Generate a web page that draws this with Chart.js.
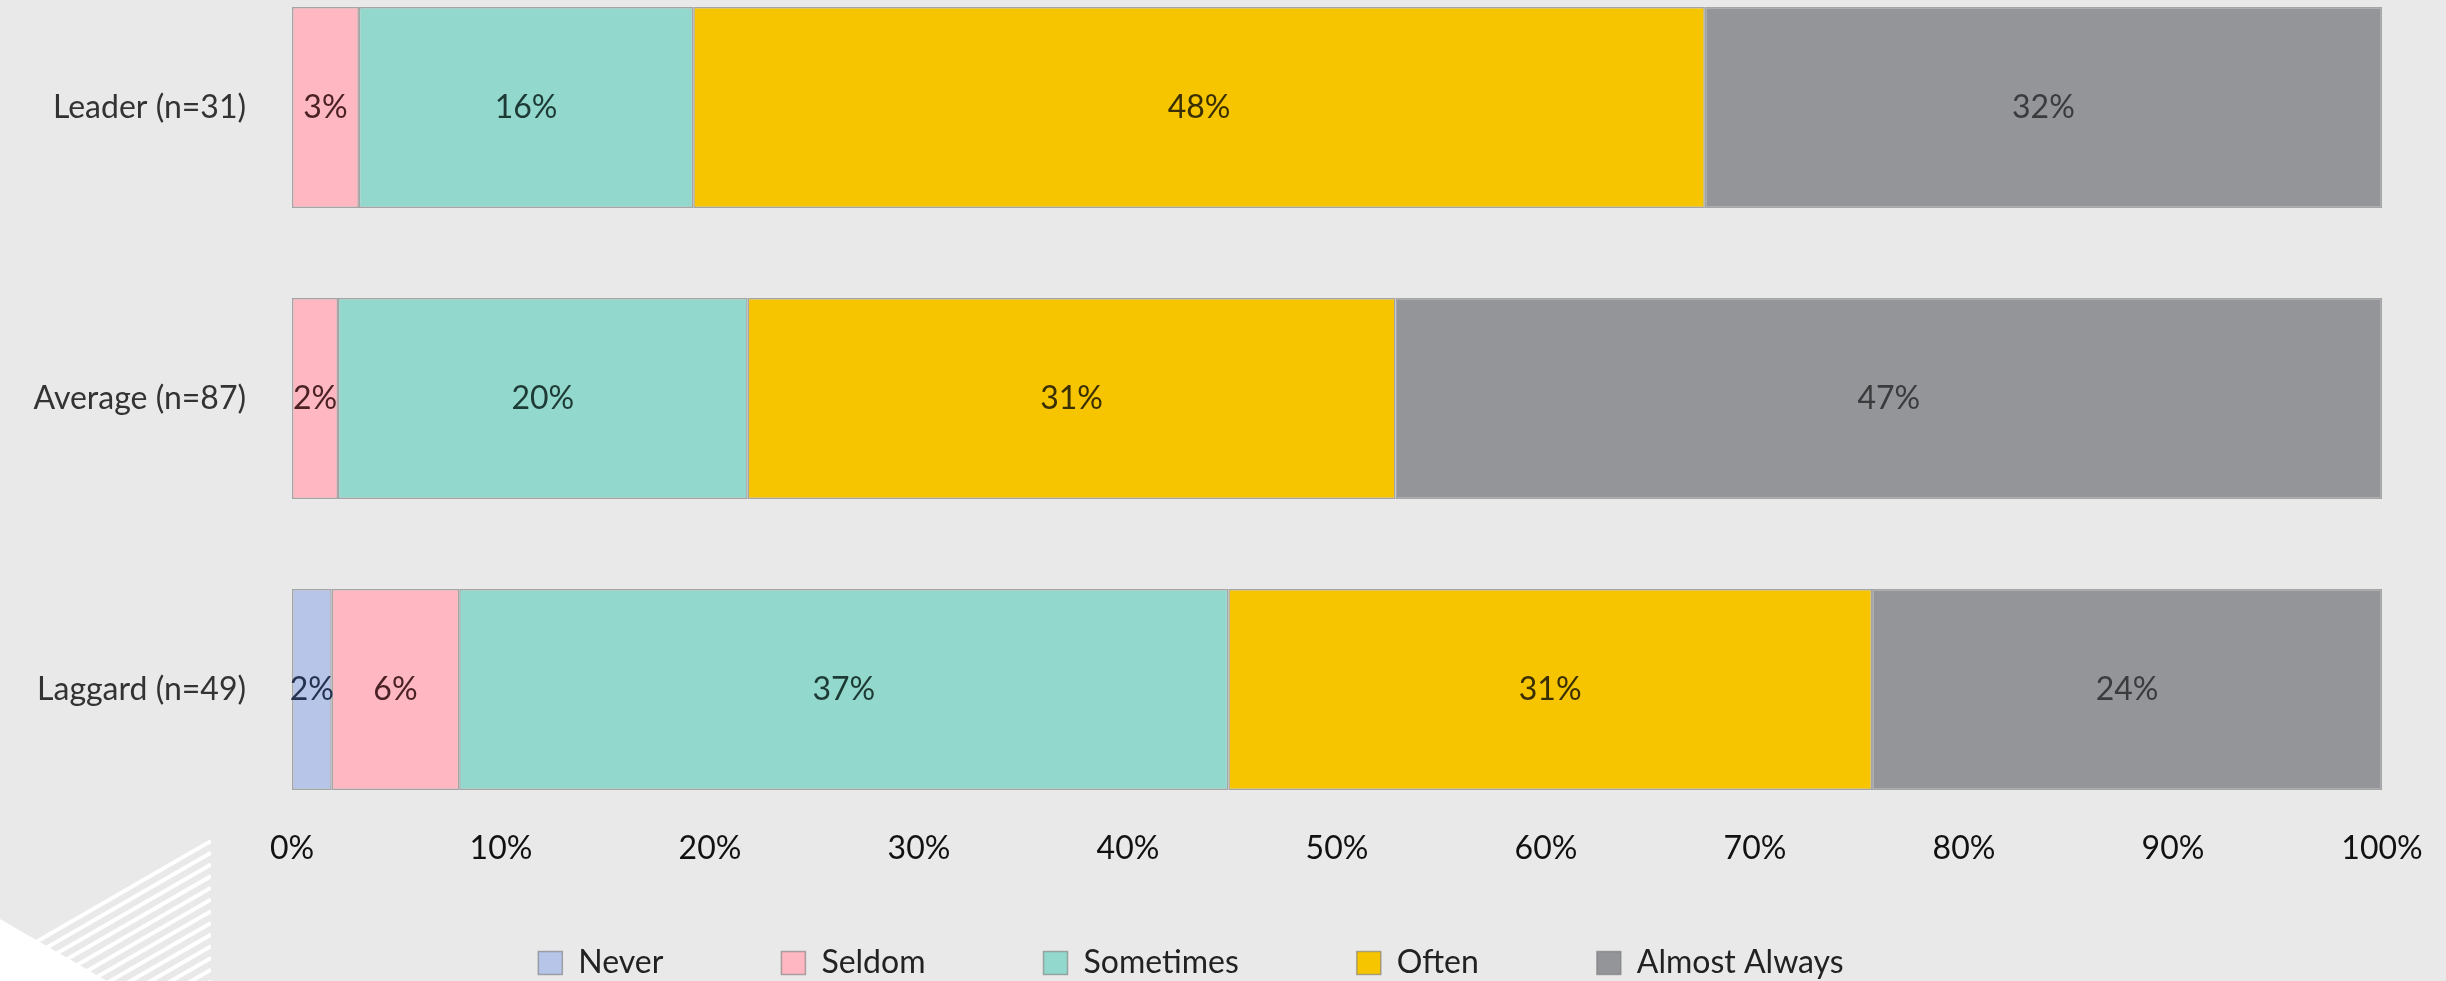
<!DOCTYPE html>
<html>
<head>
<meta charset="utf-8">
<script src="https://cdn.jsdelivr.net/npm/chart.js@4/dist/chart.umd.min.js"></script>
<style>
    html, body {
        margin: 0;
        padding: 0;
        width: 2446px;
        height: 981px;
        overflow: hidden;
        background: #e9e9e9;
        font-family: Lato, sans-serif;
    }
    #deco {
        position: absolute;
        left: 0;
        top: 0;
    }
    #chartBox {
        position: absolute;
        left: 0;
        top: -38px;
        width: 2446px;
        height: 1078px;
    }
</style>
</head>
<body>
<svg id="deco" width="260" height="981"></svg>
<div id="chartBox"><canvas id="barChart"></canvas></div>
<script>
// chart values (percent of respondents)
const categories = ['Leader (n=31)', 'Average (n=87)', 'Laggard (n=49)'];
const seriesNames = ['Never', 'Seldom', 'Sometimes', 'Often', 'Almost Always'];
const never = [0, 0, 1.9];
const seldom = [3.2, 2.2, 6.1];
const sometimes = [16.0, 19.6, 36.8];
const often = [48.4, 31.0, 30.8];
const almostAlways = [32.4, 47.2, 24.4];
const xTicks = [0, 10, 20, 30, 40, 50, 60, 70, 80, 90, 100];

const seriesValues = [never, seldom, sometimes, often, almostAlways];
const fillColors = ['#b6c5e8', '#ffb8c1', '#93d8cc', '#f6c500', '#939598'];
const labelColors = ['#26324f', '#4a2226', '#1d3a35', '#3a2f00', '#3a3b3d'];

// striped corner decoration, bottom left
function drawDecoration() {
    const svg = document.getElementById('deco');
    let html = '<defs><clipPath id="stripeClip"><polygon points="211,838 0,960 0,981 211,981"/></clipPath></defs>';
    html += '<g clip-path="url(#stripeClip)" stroke="#ffffff" stroke-width="4">';
    for (let i = 0; i < 14; i++) {
        const yRight = 841 + i * 11.7;
        const yLeft = yRight + 211 * 0.577;
        html += `<line x1="211" y1="${yRight}" x2="0" y2="${yLeft}"/>`;
    }
    html += '</g>';
    html += '<polygon points="0,919 107,981 0,981" fill="#ffffff"/>';
    svg.innerHTML = html;
}

const valueLabels = {
    id: 'valueLabels',
    afterDatasetsDraw(chart) {
        const ctx = chart.ctx;
        ctx.save();
        ctx.font = '32px Lato';
        ctx.textAlign = 'center';
        ctx.textBaseline = 'middle';
        chart.data.datasets.forEach((ds, di) => {
            const meta = chart.getDatasetMeta(di);
            meta.data.forEach((bar, i) => {
                const v = ds.data[i];
                if (!v) return;
                const p = bar.getCenterPoint();
                ctx.fillStyle = labelColors[di];
                ctx.fillText(Math.round(v) + '%', p.x, p.y);
            });
        });
        ctx.restore();
    }
};

// the legend needs wide gaps between items but sits close under the axis
const legendLift = {
    id: 'legendLift',
    afterLayout(chart) {
        chart.legend.top -= 51;
        chart.legend.bottom -= 51;
    }
};

function renderChart() {
    drawDecoration();

    const datasets = seriesNames.map((name, i) => ({
        label: name,
        data: seriesValues[i],
        backgroundColor: fillColors[i],
        borderColor: 'rgba(120, 120, 120, 0.6)',
        borderWidth: 1.5,
        borderSkipped: false,
        barPercentage: 0.69,
        categoryPercentage: 1
    }));

    new Chart(document.getElementById('barChart'), {
        type: 'bar',
        data: {
            labels: categories,
            datasets: datasets
        },
        options: {
            indexAxis: 'y',
            responsive: true,
            maintainAspectRatio: false,
            animation: false,
            layout: {
                padding: { left: 0, right: 64, top: 0, bottom: 0 }
            },
            scales: {
                x: {
                    stacked: true,
                    min: 0,
                    max: 100,
                    grid: { display: false, drawTicks: false },
                    border: { display: false },
                    afterBuildTicks: scale => {
                        scale.ticks = xTicks.map(v => ({ value: v }));
                    },
                    afterFit: scale => {
                        scale.height = 45;
                    },
                    ticks: {
                        padding: -2,
                        color: '#111111',
                        font: { family: 'Lato', size: 32, lineHeight: 1 },
                        maxRotation: 0,
                        callback: v => v + '%'
                    }
                },
                y: {
                    stacked: true,
                    grid: { display: false, drawTicks: false },
                    border: { display: false },
                    afterFit: scale => {
                        scale.width = 292;
                        scale.paddingTop = 0;
                        scale.paddingBottom = 0;
                    },
                    ticks: {
                        padding: 46,
                        color: '#333333',
                        font: { family: 'Lato', size: 32 }
                    }
                }
            },
            plugins: {
                legend: {
                    position: 'bottom',
                    labels: {
                        boxWidth: 24,
                        boxHeight: 23,
                        padding: 118,
                        color: '#222222',
                        font: { family: 'Lato', size: 32 }
                    }
                },
                tooltip: { enabled: false }
            }
        },
        plugins: [valueLabels, legendLift]
    });
}

document.fonts.load('32px Lato').then(renderChart, renderChart);
</script>
</body>
</html>
